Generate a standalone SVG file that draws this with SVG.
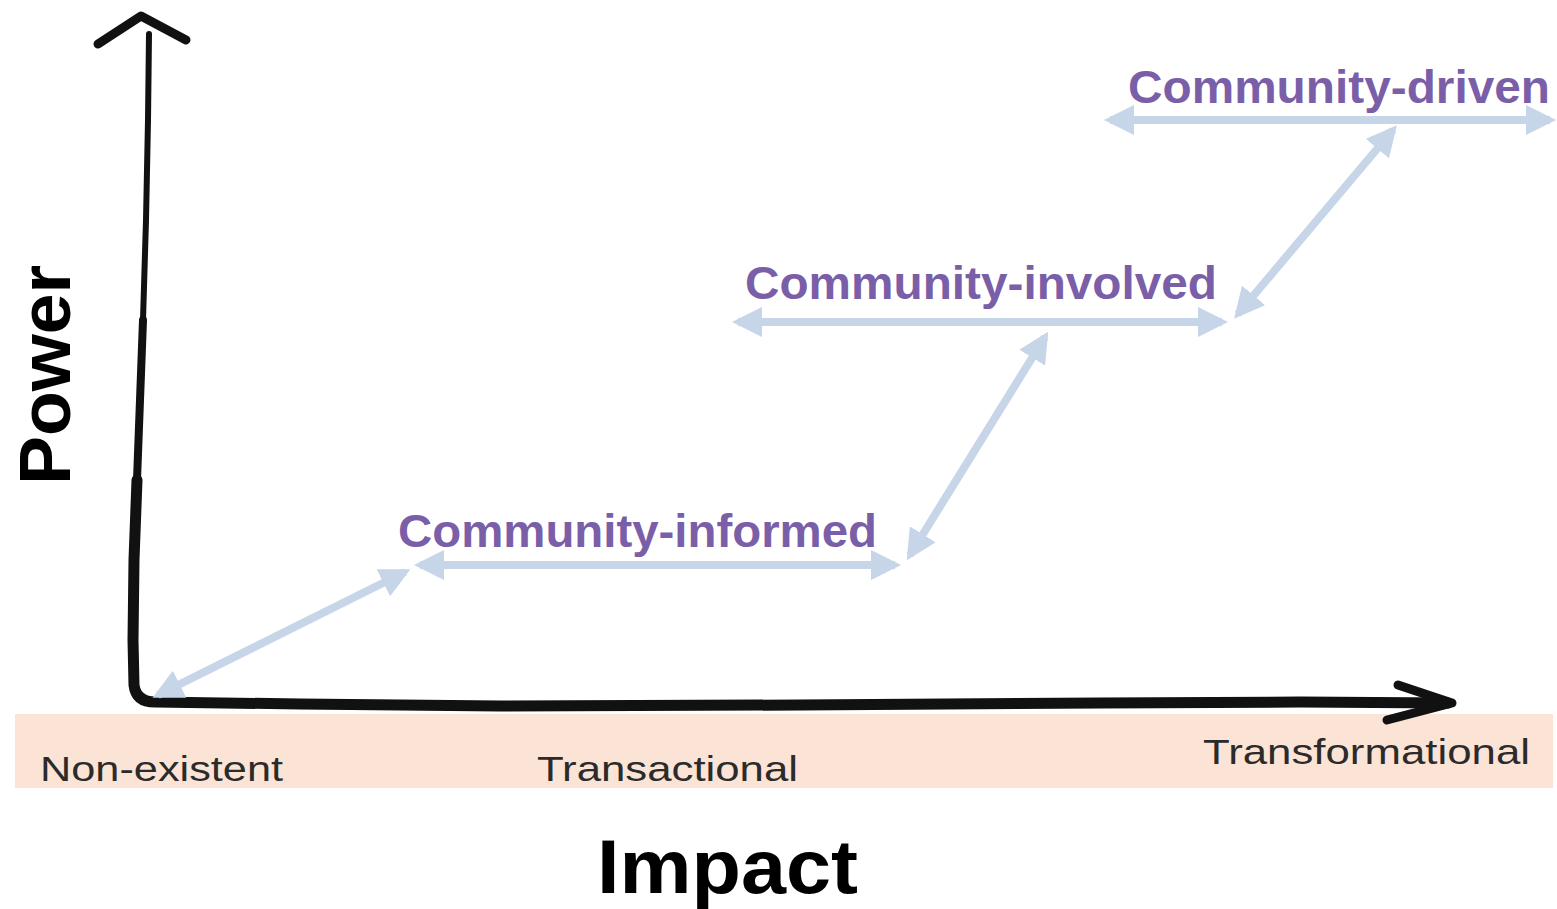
<svg xmlns="http://www.w3.org/2000/svg" width="1557" height="909" viewBox="0 0 1557 909">
<style>
.lab{font-family:"Liberation Sans",Arial,sans-serif;font-weight:bold;fill:#7a5fa8;font-size:46px}
.ax{font-family:"Liberation Sans",Arial,sans-serif;fill:#2b2b2b;font-size:35px}
.big{font-family:"Liberation Sans",Arial,sans-serif;font-weight:bold;fill:#000}
.blue{stroke:#c6d5e8;stroke-width:8;fill:none;marker-start:url(#ah);marker-end:url(#ah)}
.axis{stroke:#111;fill:none;stroke-linecap:round;stroke-linejoin:round}
</style>
<defs>
<marker id="ah" viewBox="0 0 10 10" refX="8" refY="5" markerWidth="3.8" markerHeight="3.8" orient="auto-start-reverse" markerUnits="strokeWidth">
<path d="M0,0 L10,5 L0,10 Z" fill="#c6d5e8"/>
</marker>
</defs>
<rect x="0" y="0" width="1557" height="909" fill="#fff"/>
<g id="band">
<rect x="15" y="714" width="1538" height="74" fill="#fbe4d5"/>
</g>
<g id="axes">
<path class="axis" stroke-width="6" d="M149,34 L148,120 L146,220 L143,320"/>
<path class="axis" stroke-width="8" d="M143,320 L140,400 L137,480"/>
<path class="axis" stroke-width="11" d="M137,480 L134,560 L133,640 L134,685 Q136,702 155,702 L300,704 L500,706 L800,705 L1100,703 L1300,702 L1448,703"/>
<path class="axis" stroke-width="9" d="M98,44 L141,16 L186,40"/>
<path class="axis" stroke-width="9" d="M1398,685 L1452,703 L1387,720"/>
</g>
<g id="connectors">
<line class="blue" x1="158" y1="695" x2="405" y2="572"/>
<line class="blue" x1="420" y1="565" x2="895" y2="565"/>
<line class="blue" x1="910" y1="555" x2="1045" y2="337"/>
<line class="blue" x1="738" y1="322" x2="1222" y2="322"/>
<line class="blue" x1="1238" y1="314" x2="1393" y2="130"/>
<line class="blue" x1="1110" y1="120" x2="1550" y2="120"/>
</g>
<g id="node-informed"><text class="lab" x="398" y="547" textLength="479" lengthAdjust="spacingAndGlyphs">Community-informed</text></g>
<g id="node-involved"><text class="lab" x="745" y="299" textLength="472" lengthAdjust="spacingAndGlyphs">Community-involved</text></g>
<g id="node-driven"><text class="lab" x="1128" y="103" textLength="422" lengthAdjust="spacingAndGlyphs">Community-driven</text></g>
<g id="x-labels">
<text class="ax" x="40" y="781" textLength="243" lengthAdjust="spacingAndGlyphs">Non-existent</text>
<text class="ax" x="537" y="781" textLength="261" lengthAdjust="spacingAndGlyphs">Transactional</text>
<text class="ax" x="1203" y="764" textLength="327" lengthAdjust="spacingAndGlyphs">Transformational</text>
</g>
<g id="titles">
<text class="big" font-size="76" x="597" y="893" textLength="261" lengthAdjust="spacingAndGlyphs">Impact</text>
<text class="big" font-size="72" transform="translate(70,485) rotate(-90)" x="0" y="0" textLength="220" lengthAdjust="spacingAndGlyphs">Power</text>
</g>
</svg>
